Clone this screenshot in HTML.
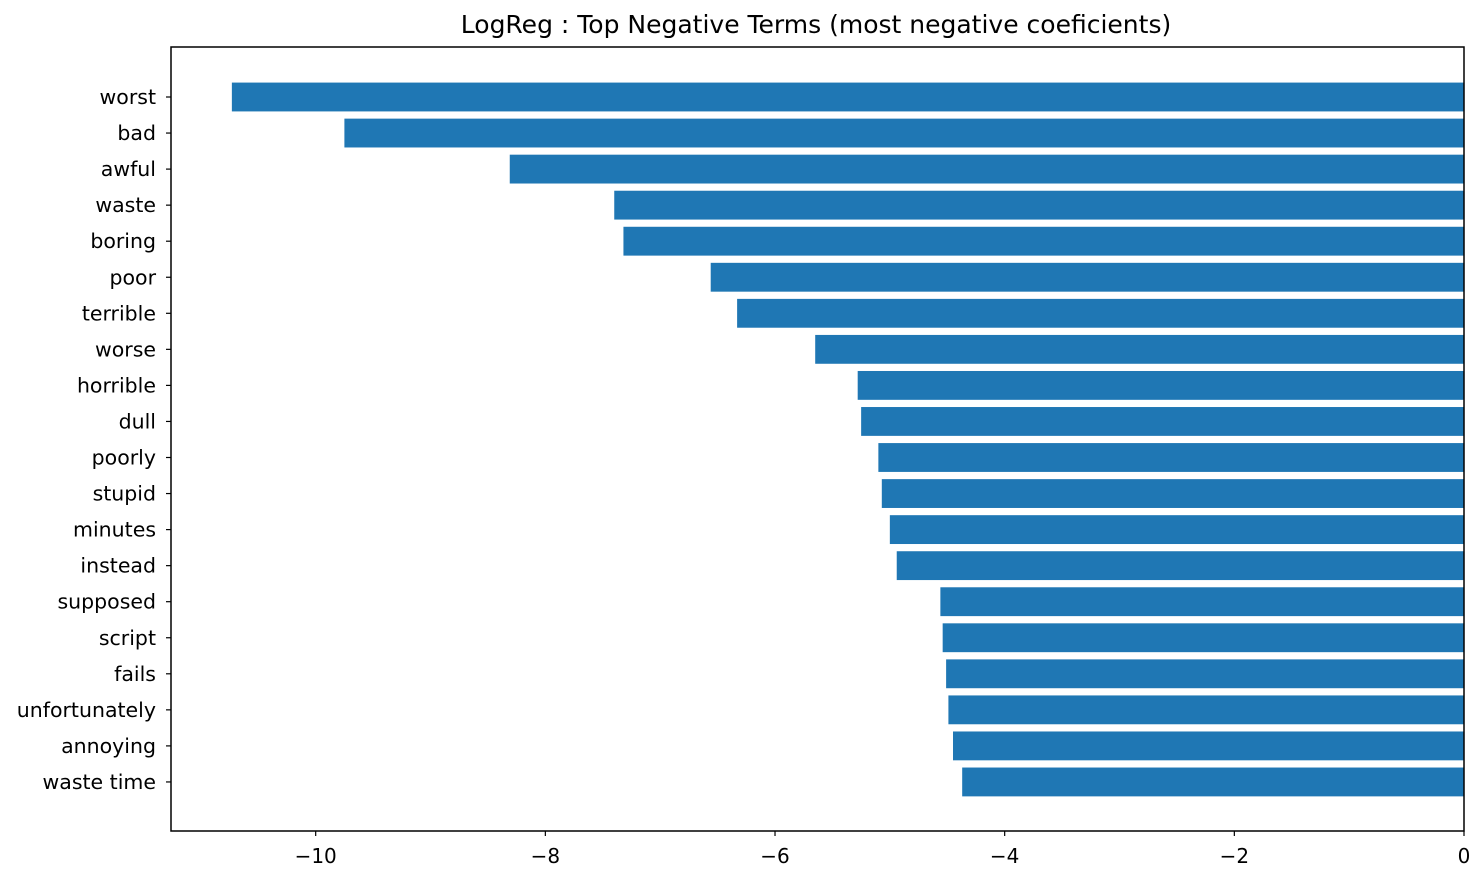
<!DOCTYPE html>
<html><head><meta charset="utf-8">
<style>
html,body{margin:0;padding:0;background:#fff;}
svg{display:block;font-family:"DejaVu Sans","Liberation Sans",sans-serif;}
</style></head>
<body>
<svg id="chart" width="1484" height="882" viewBox="0 0 1484 882">
<text x="816" y="33" font-size="25" text-anchor="middle" fill="#000">LogReg : Top Negative Terms (most negative coeficients)</text>
<g id="bars"></g>
<g id="yticks"></g>
<g id="xticks"></g>
<rect x="171" y="47" width="1293" height="784" fill="none" stroke="#000" stroke-width="1.5"/>
</svg>
<script>
const categories = ["worst","bad","awful","waste","boring","poor","terrible","worse","horrible","dull","poorly","stupid","minutes","instead","supposed","script","fails","unfortunately","annoying","waste time"];
const values = [-10.73,-9.75,-8.31,-7.40,-7.32,-6.56,-6.33,-5.65,-5.28,-5.25,-5.10,-5.07,-5.00,-4.94,-4.56,-4.54,-4.51,-4.49,-4.45,-4.37];
const xTicks = [-10,-8,-6,-4,-2,0];
const xTickLabels = ["\u221210","\u22128","\u22126","\u22124","\u22122","0"];

const NS = "http://www.w3.org/2000/svg";
const xMin = -11.26, xMax = 0, pxL = 171, pxR = 1464;
function xScale(v){ return pxL + (v - xMin) / (xMax - xMin) * (pxR - pxL); }
const yTop = 47, yBot = 831, n = categories.length;
const band = 36.05;
function yScale(i){ return 97 + i * band; }

const gb = document.getElementById('bars');
const gy = document.getElementById('yticks');
const gx = document.getElementById('xticks');
categories.forEach((c, i) => {
  const v = values[i];
  const yc = yScale(i);
  const h = band * 0.8;
  const r = document.createElementNS(NS, 'rect');
  r.setAttribute('x', Math.min(xScale(v), xScale(0)));
  r.setAttribute('y', yc - h / 2);
  r.setAttribute('width', Math.abs(xScale(0) - xScale(v)));
  r.setAttribute('height', h);
  r.setAttribute('fill', '#1f77b4');
  
  
  gb.appendChild(r);
  const tk = document.createElementNS(NS, 'line');
  tk.setAttribute('x1', pxL - 5); tk.setAttribute('x2', pxL);
  tk.setAttribute('y1', yc); tk.setAttribute('y2', yc);
  tk.setAttribute('stroke', '#000'); tk.setAttribute('stroke-width', '1.2');
  
  
  gy.appendChild(tk);
  const t = document.createElementNS(NS, 'text');
  t.setAttribute('x', pxL - 15); t.setAttribute('y', yc + 7);
  t.setAttribute('text-anchor', 'end'); t.setAttribute('font-size', '20.5');
  t.textContent = c;
  
  
  gy.appendChild(t);
});
xTicks.forEach((v, i) => {
  const x = xScale(v);
  const tk = document.createElementNS(NS, 'line');
  tk.setAttribute('x1', x); tk.setAttribute('x2', x);
  tk.setAttribute('y1', yBot); tk.setAttribute('y2', yBot + 5);
  tk.setAttribute('stroke', '#000'); tk.setAttribute('stroke-width', '1.2');
  
  
  gx.appendChild(tk);
  const t = document.createElementNS(NS, 'text');
  t.setAttribute('x', x); t.setAttribute('y', yBot + 32);
  t.setAttribute('text-anchor', 'middle'); t.setAttribute('font-size', '20');
  t.textContent = xTickLabels[i];
  
  
  gx.appendChild(t);
});
</script>
</body></html>
